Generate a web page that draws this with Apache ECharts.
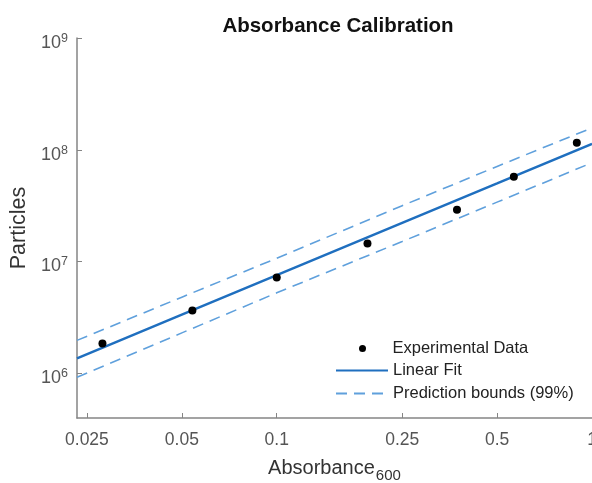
<!DOCTYPE html>
<html>
<head>
<meta charset="utf-8">
<script src="https://cdn.jsdelivr.net/npm/echarts@6/dist/echarts.min.js"></script>
<style>
  html, body { margin: 0; padding: 0; background: #fff; }
  #chart { width: 592px; height: 483px; }
</style>
</head>
<body>
<div id="chart"></div>
<script>
// measured points (absorbance, particle count)
const absorbance = [0.028, 0.054, 0.1, 0.194, 0.373, 0.565, 0.895];
const particles = [1.85e6, 3.65e6, 7.2e6, 1.45e7, 2.91e7, 5.74e7, 1.155e8];

// fit and 99% bounds, read at these absorbances
const fitX = [0.02325, 0.05, 0.1, 0.25, 0.5, 1];
const fitY = [1.36e6, 3.35e6, 7.55e6, 2.22e7, 5.0e7, 1.13e8];
const upperY = [1.97e6, 4.8e6, 1.07e7, 3.16e7, 7.1e7, 1.57e8];
const lowerY = [9.2e5, 2.3e6, 5.25e6, 1.51e7, 3.4e7, 7.66e7];

const xTicks = [0.025, 0.05, 0.1, 0.25, 0.5, 1];
const yTicks = [1e6, 1e7, 1e8, 1e9];

// plot in log10 space on value axes
const lg = v => Math.log10(v);
const pairs = (xs, ys) => xs.map((x, i) => [lg(x), lg(ys[i])]);

const font = 'Liberation Sans, Arial, sans-serif';
const gray = '#858585';
const boundColor = '#5fa0dc';
const fitColor = '#1f6fbf';
const legendText = { fontFamily: font, fontSize: 16.5, color: '#222' };

let myChart = echarts.init(document.getElementById('chart'));
myChart.setOption({
  animation: false,
  title: {
    text: 'Absorbance Calibration',
    left: 333,
    textAlign: 'center',
    top: 11,
    textStyle: { fontFamily: font, fontSize: 20.5, fontWeight: 'bold', color: '#111' }
  },
  grid: { left: 77, right: 0, top: 38, bottom: 65, outerBoundsMode: 'none' },
  legend: [
    {
      left: 354, top: 335,
      itemWidth: 50, itemHeight: 7,
      data: ['Experimental Data'],
      textStyle: legendText
    },
    {
      left: 330, top: 357, orient: 'vertical',
      itemWidth: 52, itemHeight: 14, itemGap: 6,
      itemStyle: { opacity: 0 },
      data: ['Linear Fit', 'Prediction bounds (99%)'],
      textStyle: legendText
    }
  ],
  xAxis: {
    type: 'value',
    min: lg(0.02325),
    max: 0,
    splitLine: { show: false },
    axisLine: { onZero: false, lineStyle: { color: gray, width: 1.5 } },
    axisTick: { inside: true, length: 5, customValues: xTicks.map(lg), lineStyle: { color: gray } },
    axisLabel: {
      customValues: xTicks.map(lg),
      margin: 13,
      fontFamily: font, fontSize: 17.5, color: '#555',
      formatter: v => String(+Math.pow(10, v).toPrecision(3))
    },
    name: '{a|Absorbance}{s|600}',
    nameLocation: 'middle',
    nameGap: 40,
    nameTextStyle: {
      rich: {
        a: { fontFamily: font, fontSize: 20, color: '#333', lineHeight: 24, verticalAlign: 'top' },
        s: { fontFamily: font, fontSize: 15, color: '#333', lineHeight: 15, verticalAlign: 'bottom', padding: [14, 0, 0, 1] }
      }
    }
  },
  yAxis: {
    type: 'value',
    min: lg(10 ** 5.6),
    max: 9,
    splitLine: { show: false },
    axisLine: { onZero: false, lineStyle: { color: gray, width: 1.5 } },
    axisTick: { inside: true, length: 5, customValues: yTicks.map(lg), lineStyle: { color: gray } },
    axisLabel: {
      customValues: yTicks.map(lg),
      margin: 9,
      padding: [8, 0, 0, 0],
      formatter: v => '{b|10}{e|' + Math.round(v) + '}',
      rich: {
        b: { fontFamily: font, fontSize: 18, color: '#555', lineHeight: 20, verticalAlign: 'bottom', padding: [8, 0, 0, 0] },
        e: { fontFamily: font, fontSize: 12.5, color: '#555', lineHeight: 12, verticalAlign: 'top' }
      }
    },
    name: 'Particles',
    nameLocation: 'middle',
    nameGap: 44,
    nameTextStyle: { fontFamily: font, fontSize: 21.5, color: '#333' }
  },
  series: [
    {
      name: 'Prediction bounds (99%)',
      type: 'line',
      data: pairs(fitX, upperY),
      symbol: 'none',
      lineStyle: { color: boundColor, width: 1.6, type: [11, 7] },
      itemStyle: { color: boundColor }
    },
    {
      name: 'Prediction bounds (99%)',
      type: 'line',
      data: pairs(fitX, lowerY),
      symbol: 'none',
      lineStyle: { color: boundColor, width: 1.6, type: [11, 7] },
      itemStyle: { color: boundColor }
    },
    {
      name: 'Linear Fit',
      type: 'line',
      data: pairs(fitX, fitY),
      symbol: 'none',
      lineStyle: { color: fitColor, width: 2.5 },
      itemStyle: { color: fitColor }
    },
    {
      name: 'Experimental Data',
      type: 'scatter',
      data: pairs(absorbance, particles),
      symbol: 'circle',
      symbolSize: 8,
      itemStyle: { color: '#000', opacity: 1 },
      z: 5
    }
  ]
});
</script>
</body>
</html>
